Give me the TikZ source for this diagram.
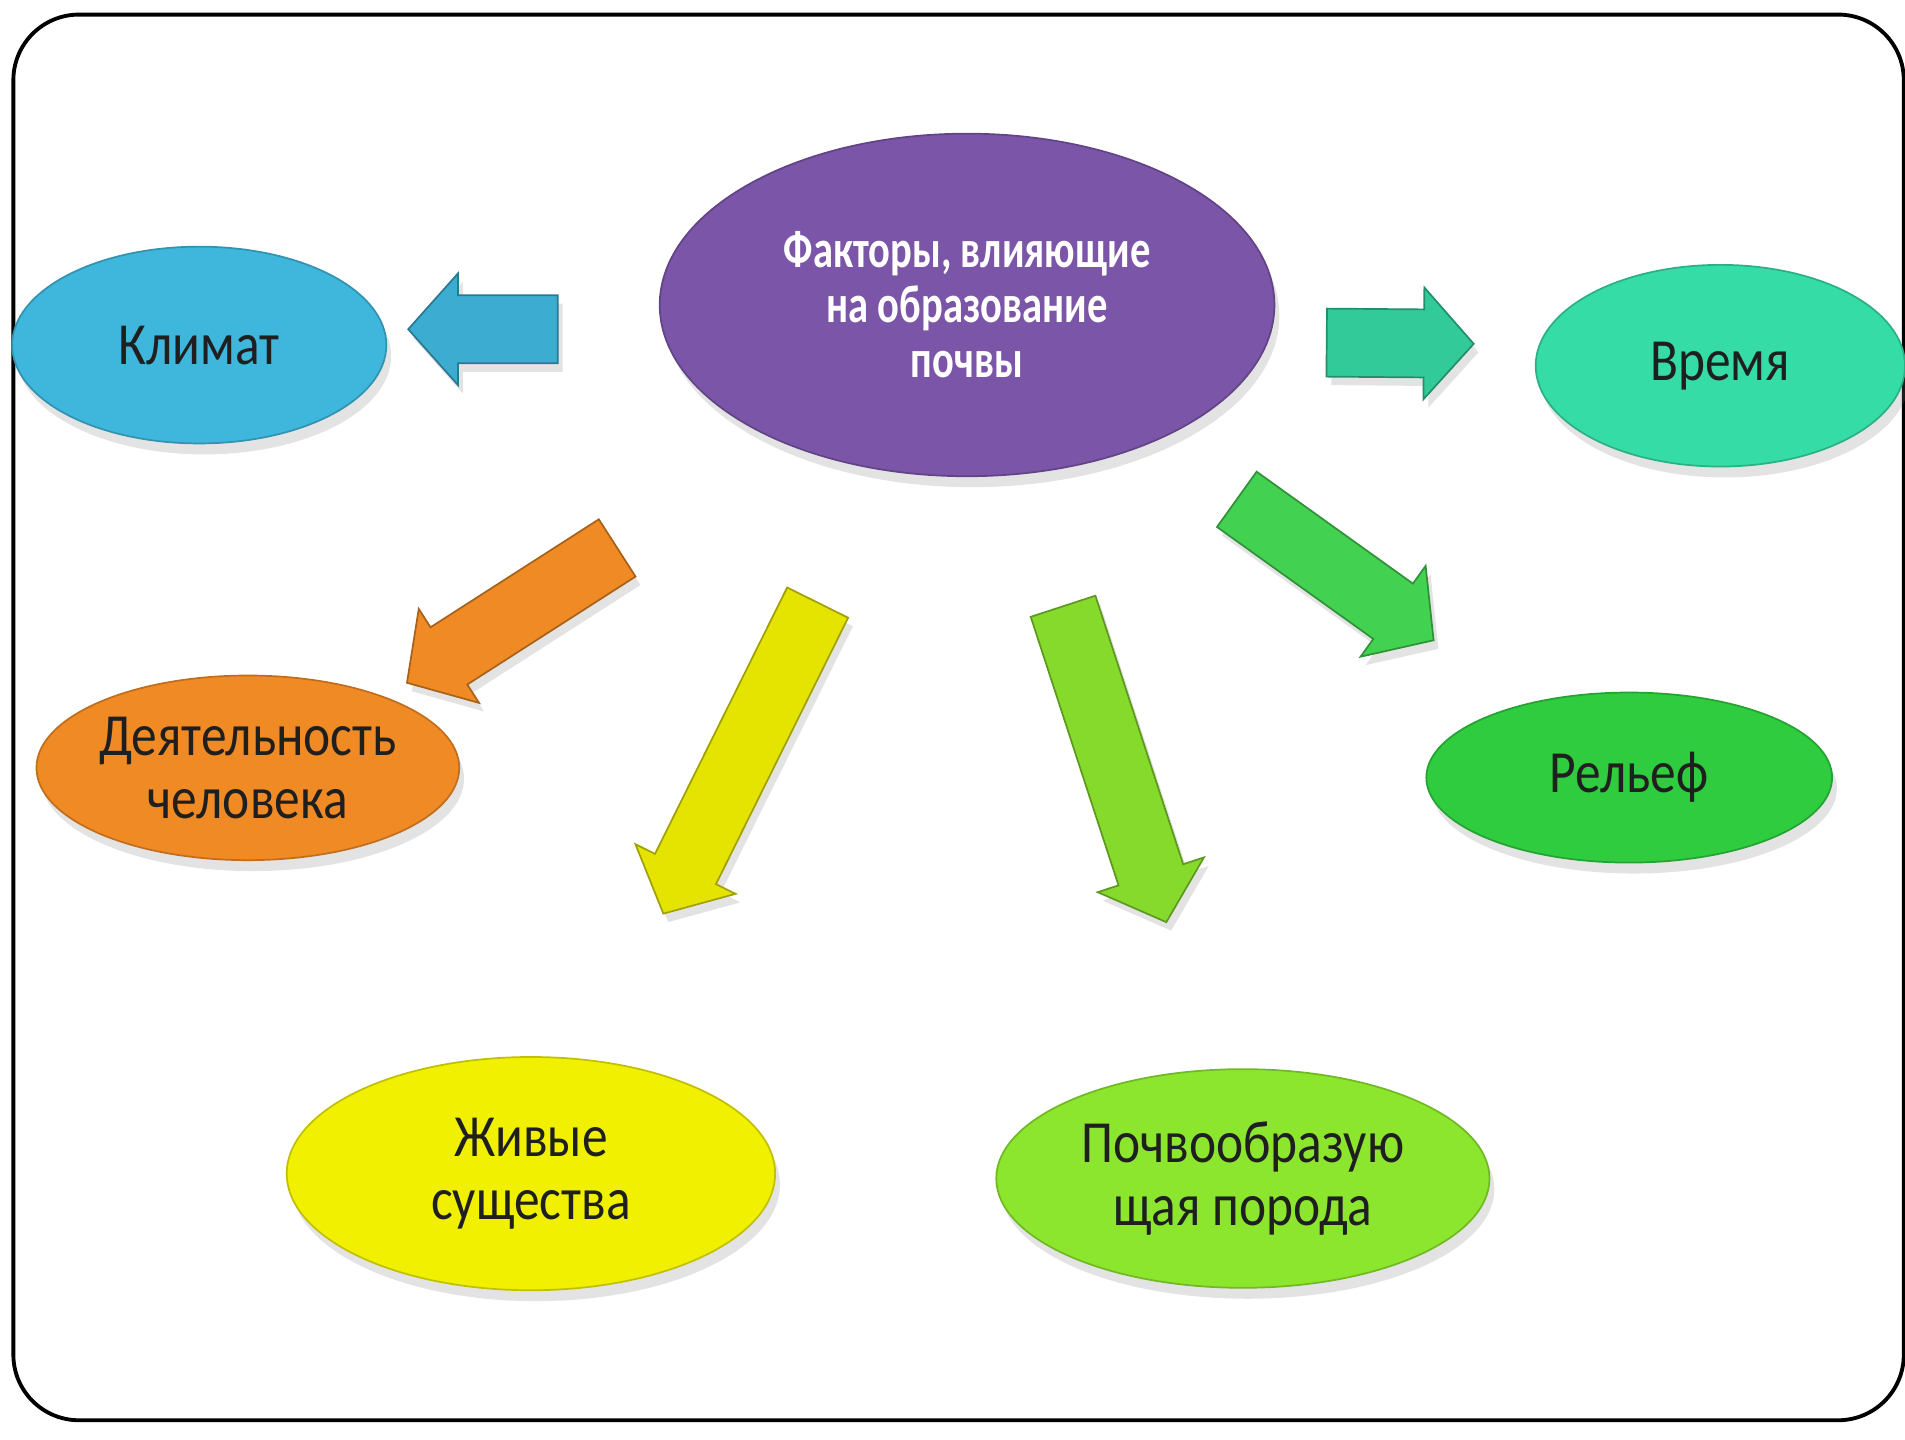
\documentclass[tikz,border=0pt]{standalone}
\usepackage{fontspec}
\setmainfont{Carlito}
\newfontfamily\slidefont[FakeStretch=0.86]{Carlito}
\newfontfamily\titlefont[FakeStretch=0.76]{Carlito}
\usetikzlibrary{shapes.geometric}
\usetikzlibrary{calc}
\usetikzlibrary{shadows}

\definecolor{klimatblue}{HTML}{3FB6DC}
\definecolor{factorpurple}{HTML}{7B55A7}
\definecolor{vremyateal}{HTML}{36DCA6}
\definecolor{humanorange}{HTML}{F08A24}
\definecolor{reliefgreen}{HTML}{2ECC3E}
\definecolor{lifeyellow}{HTML}{F0F000}
\definecolor{rocklime}{HTML}{8DE62E}

% block arrow: colour, tail, tip
\newcommand{\blockarrow}[3]{%
  \coordinate (hb) at ($(#3)!4.1mm!(#2)$);
  \draw[blockarr, fill=#1, draw=#1!70!black]
    ($(#2)!2.8mm!90:(#3)$) -- ($(hb)!2.8mm!90:(#3)$) -- ($(hb)!4.6mm!90:(#3)$)
    -- (#3) -- ($(hb)!4.6mm!-90:(#3)$) -- ($(hb)!2.8mm!-90:(#3)$)
    -- ($(#2)!2.8mm!-90:(#3)$) -- cycle;
}

\begin{document}
\begin{tikzpicture}[x=0.1mm, y=-0.1mm,
    factor/.style={ellipse, inner sep=0pt, draw=#1!80!black, fill=#1, line width=0.4pt,
        text=black!88, align=center, font=\slidefont\fontsize{14}{14.8}\selectfont,
        drop shadow={shadow xshift=0.4mm, shadow yshift=-0.9mm, opacity=0.22}},
    blockarr/.style={line width=0.4pt,
        drop shadow={shadow xshift=0.4mm, shadow yshift=-0.7mm, opacity=0.22}}]

            % \draw [help lines] (0,0) grid (1568,1185);
            \useasboundingbox (0,0) rectangle (1568,1185);

            \draw[line width=0.9pt, rounded corners=5.4mm] (11,12) rectangle (1567,1169);

            \path   (796,251)  node (factors) [factor=factorpurple, minimum width=50.6mm, minimum height=28.2mm,
                                 text=white, font=\titlefont\bfseries\fontsize{12.5}{12.9}\selectfont]
                                 {Факторы, влияющие\\на образование\\почвы}
                    (164,284)  node (klimat) [factor=klimatblue, minimum width=30.8mm, minimum height=16.2mm] {Климат}
                    (1416,301) node (vremya) [factor=vremyateal, minimum width=30.4mm, minimum height=16.6mm] {Время}
                    (204,632)  node (human)  [factor=humanorange, minimum width=34.8mm, minimum height=15.2mm] {Деятельность\\человека}
                    (1341,640) node (relief) [factor=reliefgreen, minimum width=33.4mm, minimum height=14mm] {Рельеф}
                    (437,966)  node (life)   [factor=lifeyellow, minimum width=40.2mm, minimum height=19.2mm] {Живые\\существа}
                    (1023,970) node (rock)   [factor=rocklime, minimum width=40.6mm, minimum height=18mm] {Почвообразую\\щая порода};

            \coordinate (klimatT) at (459,271);   \coordinate (klimatH) at (336,271);
            \coordinate (vremyaT) at (1092,282);  \coordinate (vremyaH) at (1213,283);
            \coordinate (humanT)  at (508,451);   \coordinate (humanH)  at (335,562);
            \coordinate (lifeT)   at (673,496);   \coordinate (lifeH)   at (546,752);
            \coordinate (rockT)   at (875,499);   \coordinate (rockH)   at (960,759);
            \coordinate (reliefT) at (1018,411);  \coordinate (reliefH) at (1180,527);

            \blockarrow{klimatblue!95!black}{klimatT}{klimatH}
            \blockarrow{vremyateal!92!black}{vremyaT}{vremyaH}
            \blockarrow{humanorange}{humanT}{humanH}
            \blockarrow{lifeyellow!95!black}{lifeT}{lifeH}
            \blockarrow{rocklime!95!black}{rockT}{rockH}
            \blockarrow{reliefgreen!90!white}{reliefT}{reliefH}

\end{tikzpicture}
\end{document}
